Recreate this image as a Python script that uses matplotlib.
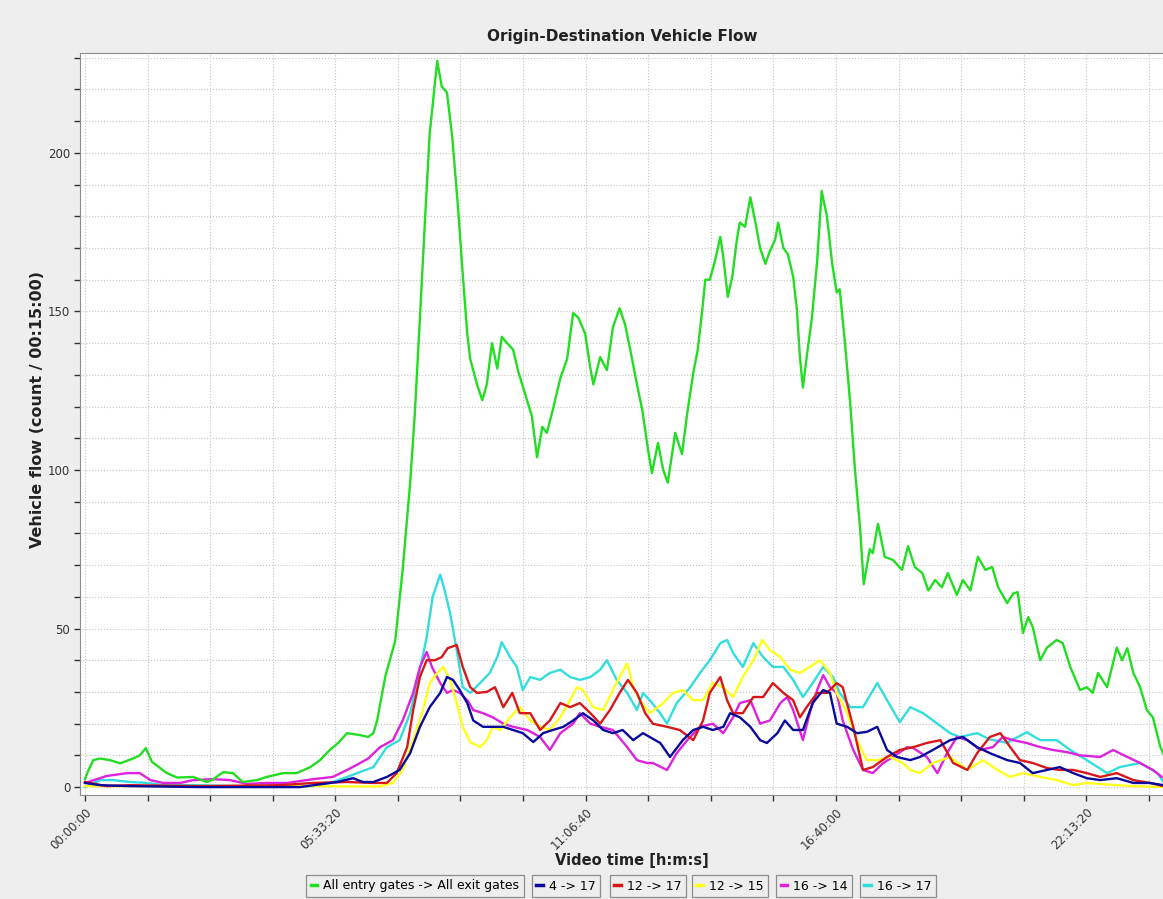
import numpy as np
import matplotlib.pyplot as plt
from matplotlib.ticker import MultipleLocator, FuncFormatter

# (minute of video, vehicles per 15 min)
all_gates = [
    (0, 2.5), (4, 5), (11, 8.5), (20, 9), (33, 8.5), (47, 7.5), (64, 9), (73, 10), (81, 12.3), (89, 8),
    (100, 6), (109, 4.4), (123, 3), (144, 3.2), (162, 1.6), (169, 2.2), (184, 4.7), (197, 4.4), (210, 1.6),
    (229, 2.2), (242, 3.2), (264, 4.4), (282, 4.4), (300, 6.3), (313, 8.5), (326, 11.7), (337, 13.9),
    (349, 17), (366, 16.4), (377, 15.8), (384, 17), (389, 21), (400, 35), (413, 46), (423, 68.5),
    (433, 96), (439, 117), (446, 148), (453, 180), (459, 206), (469, 229), (475, 221), (482, 219),
    (489, 205), (497, 182), (502, 165), (509, 143), (513, 135), (522, 127), (529, 122), (535, 127),
    (542, 140), (549, 132), (555, 142), (562, 140), (570, 138), (577, 131), (586, 124), (595, 117),
    (602, 104), (609, 113.6), (615, 111.7), (623, 119), (633, 129), (642, 135), (650, 149.5), (657, 148),
    (666, 143), (673, 132), (677, 127), (686, 135.6), (695, 131.5), (703, 145), (712, 151), (719, 146),
    (726, 138), (735, 127), (742, 119), (750, 106), (755, 99), (763, 108.5), (770, 100), (776, 96),
    (786, 111.7), (795, 105), (802, 118), (810, 130.6), (816, 138), (822, 150.5), (826, 160), (832, 160),
    (839, 166), (846, 173.5), (850, 167), (856, 154.6), (862, 161), (868, 172.6), (872, 178), (879, 176.7),
    (886, 186), (892, 179), (899, 170), (906, 165), (912, 169), (919, 172.6), (923, 178), (930, 170),
    (936, 168), (943, 161), (948, 150.5), (952, 135.6), (956, 126), (961, 135.6), (968, 148), (975, 166),
    (981, 188), (988, 180), (995, 165), (1001, 156), (1005, 157), (1012, 140), (1019, 121), (1025, 101),
    (1032, 82), (1037, 64), (1045, 75), (1049, 73.8), (1056, 83), (1065, 72.6), (1076, 71.6), (1088, 68.5),
    (1096, 76), (1105, 69.4), (1115, 67.5), (1123, 62), (1132, 65.3), (1141, 63), (1149, 67.5),
    (1161, 60.6), (1169, 65.3), (1179, 62), (1189, 72.6), (1199, 68.5), (1208, 69.4), (1216, 63),
    (1228, 58), (1236, 61), (1242, 61.5), (1249, 48.6), (1256, 53.6), (1262, 50.5), (1272, 40), (1281, 44),
    (1294, 46.4), (1302, 45.4), (1312, 37.9), (1325, 30.6), (1334, 31.5), (1342, 29.7), (1349, 36),
    (1361, 31.5), (1374, 44), (1381, 40), (1388, 43.8), (1396, 36), (1405, 31.5), (1414, 24.3),
    (1422, 22), (1432, 12.6), (1436, 10.5),
]

od_4_17 = [
    (0, 1.3), (20, 0.6), (60, 0.3), (153, 0), (286, 0), (336, 1.6), (357, 2.8), (370, 1.6), (384, 1.6),
    (402, 3.2), (419, 5.4), (433, 10.7), (446, 19), (459, 25.2), (473, 29.7), (482, 34.7), (490, 33.8),
    (499, 30.6), (509, 26.5), (517, 21), (530, 19), (543, 19), (557, 19), (570, 18), (583, 17), (597, 14.2),
    (610, 17), (623, 18), (637, 19), (650, 21), (663, 23.3), (677, 21), (690, 18), (703, 17), (716, 18),
    (730, 14.8), (743, 17), (752, 15.8), (766, 13.9), (779, 9.5), (796, 14.8), (810, 18), (823, 19),
    (836, 18), (850, 19), (859, 23.3), (872, 22), (886, 19), (899, 14.8), (908, 13.9), (922, 17), (932, 21),
    (943, 18), (956, 18), (969, 26.5), (983, 30.6), (992, 29.7), (1001, 20), (1015, 19), (1028, 17),
    (1041, 17.4), (1055, 19), (1068, 11.7), (1081, 9.5), (1099, 8.5), (1112, 9.5), (1129, 11.7),
    (1152, 14.8), (1169, 15.8), (1188, 12.6), (1205, 10.7), (1228, 8.5), (1245, 7.6), (1262, 4.4),
    (1281, 5.4), (1298, 6.3), (1316, 4.4), (1334, 2.8), (1352, 2.2), (1374, 2.8), (1396, 1.3),
    (1418, 1.3), (1436, 0.6),
]

od_12_17 = [
    (0, 1.6), (29, 0.3), (60, 0.6), (153, 0.3), (260, 0.6), (304, 1.3), (349, 1.6), (384, 1.3), (402, 1.3),
    (415, 4.4), (429, 12.6), (437, 24.3), (446, 34.7), (455, 40), (466, 40), (475, 41), (483, 43.8),
    (495, 44.8), (503, 37.9), (513, 31.5), (522, 29.7), (535, 30), (546, 31.5), (557, 25.2), (569, 29.7),
    (579, 23.3), (593, 23.3), (606, 18), (619, 21), (633, 26.5), (646, 25.2), (659, 26.5), (673, 23.3),
    (686, 20), (699, 24.3), (712, 29.7), (723, 33.8), (735, 29.7), (746, 23.3), (756, 20), (775, 19),
    (792, 18), (810, 14.8), (823, 21), (832, 29.7), (846, 34.7), (855, 27.4), (863, 23.3), (876, 23.3),
    (890, 28.4), (903, 28.4), (916, 32.8), (930, 29.7), (943, 27.4), (952, 22), (961, 25.2), (975, 29.7),
    (988, 29.7), (1001, 32.8), (1009, 31.5), (1023, 19), (1036, 5.4), (1049, 6.3), (1068, 9.5),
    (1085, 11.7), (1103, 12.6), (1121, 13.9), (1139, 14.8), (1156, 7.6), (1175, 5.4), (1188, 10.7),
    (1205, 15.8), (1219, 17), (1232, 12.6), (1245, 8.5), (1262, 7.6), (1281, 6), (1298, 5.4),
    (1316, 5.4), (1334, 4.4), (1352, 3.2), (1374, 4.4), (1396, 2.2), (1418, 1.3), (1436, 0.3),
]

od_12_15 = [
    (0, 0.3), (153, 0.3), (286, 0.3), (366, 0.2), (393, 0.2), (410, 1.3), (423, 5.4), (437, 14.8),
    (450, 24.3), (459, 32.8), (469, 36), (477, 37.9), (486, 33.8), (495, 26.5), (503, 19), (513, 14.2),
    (526, 12.6), (535, 14.8), (543, 19), (553, 18), (566, 22), (579, 25.2), (593, 21), (606, 19),
    (619, 18), (633, 22), (646, 27.4), (655, 31.5), (663, 30.6), (677, 25.2), (690, 24.3), (703, 30.6),
    (712, 34.7), (722, 39), (730, 31.5), (739, 27.4), (752, 23.3), (770, 26.5), (783, 29.7), (796, 30.6),
    (810, 27.4), (823, 27.4), (836, 32.8), (850, 31.5), (863, 28.4), (876, 34.7), (890, 40), (902, 46.4),
    (912, 43.2), (926, 41), (939, 37), (952, 36), (965, 37.9), (979, 40), (992, 36), (1001, 29.7),
    (1015, 23.3), (1028, 14.8), (1041, 8.5), (1055, 8.5), (1072, 9.5), (1089, 7.6), (1099, 5.4),
    (1112, 4.4), (1129, 7.6), (1152, 9.5), (1175, 5.4), (1196, 8.5), (1215, 5.4), (1232, 3.2),
    (1249, 4.4), (1272, 3.2), (1294, 2.2), (1316, 0.6), (1334, 1.3), (1374, 0.6), (1396, 0.3), (1436, 0),
]

od_16_14 = [
    (0, 1.3), (29, 3.5), (56, 4.4), (73, 4.4), (87, 2.2), (104, 1.3), (127, 1.3), (144, 2.2), (170, 2.5),
    (193, 2.2), (216, 1), (242, 1.3), (269, 1.3), (304, 2.5), (330, 3.2), (349, 5.4), (362, 7), (377, 9),
    (393, 12.6), (410, 14.8), (423, 21), (437, 29.7), (446, 37.9), (455, 42.6), (462, 37.9), (473, 32.8),
    (482, 29.7), (490, 30.6), (499, 29.7), (509, 27.4), (517, 24.3), (530, 23.3), (543, 22), (557, 20),
    (570, 19), (589, 18), (606, 15.8), (619, 11.7), (633, 17), (650, 20), (659, 23.3), (673, 20),
    (686, 19), (703, 18), (722, 12.6), (735, 8.5), (748, 7.6), (756, 7.6), (775, 5.4), (788, 10.7),
    (802, 14.8), (819, 19), (836, 20), (850, 17), (863, 22), (872, 26.5), (886, 27.4), (899, 20),
    (912, 21), (926, 26.5), (935, 28.4), (943, 24.3), (956, 14.8), (965, 23.3), (975, 30.6), (983, 35.3),
    (992, 31.5), (1001, 29.7), (1009, 21), (1023, 11.7), (1036, 5.4), (1049, 4.4), (1063, 7.6),
    (1076, 9.5), (1095, 12.6), (1103, 12.3), (1121, 9.5), (1135, 4.4), (1148, 10.7), (1161, 15.8),
    (1175, 14.8), (1192, 11.7), (1209, 12.6), (1222, 15.8), (1236, 14.8), (1254, 13.9), (1272, 12.6),
    (1289, 11.7), (1308, 11), (1325, 10), (1352, 9.5), (1369, 11.7), (1388, 9.5), (1405, 7.6),
    (1422, 5.4), (1434, 3.2),
]

od_16_17 = [
    (0, 0), (20, 2.2), (37, 2.2), (60, 1.6), (83, 1.3), (104, 0.6), (153, 0.6), (216, 0.2), (304, 0.3),
    (330, 1.6), (349, 3.2), (366, 4.7), (384, 6.3), (402, 12.6), (419, 14.8), (433, 23.3), (446, 37),
    (455, 47.3), (463, 60), (473, 67), (479, 62), (486, 55), (495, 43.2), (503, 31.5), (513, 29.7),
    (526, 32.8), (539, 36), (549, 41), (555, 45.7), (566, 41), (575, 37.9), (583, 30.6), (593, 34.7),
    (606, 33.8), (619, 36), (633, 37), (646, 34.7), (659, 33.8), (673, 34.7), (686, 37), (695, 40),
    (708, 33.8), (722, 29.7), (735, 24.3), (743, 29.7), (752, 27.4), (766, 23.3), (775, 20), (788, 26.5),
    (806, 31.5), (819, 36), (832, 40), (846, 45.4), (855, 46.4), (863, 42.3), (876, 37.9), (890, 45.4),
    (903, 41), (916, 37.9), (930, 37.9), (943, 33.8), (956, 28.4), (969, 32.8), (983, 37.9), (996, 34.7),
    (1005, 29.7), (1019, 25.2), (1036, 25.2), (1055, 32.8), (1068, 27.4), (1085, 20.5), (1099, 25.2),
    (1116, 23.3), (1135, 20), (1152, 17), (1165, 15.8), (1188, 17), (1205, 15), (1228, 14),
    (1254, 17.3), (1272, 14.8), (1294, 14.8), (1312, 11.7), (1334, 8.5), (1361, 4.4), (1378, 6.3),
    (1405, 7.6), (1428, 4.4), (1436, 1.6),
]

series = [
    (all_gates, 'All entry gates -> All exit gates', '#22dd22'),
    (od_4_17, '4 -> 17', '#0a0a9c'),
    (od_12_17, '12 -> 17', '#d81818'),
    (od_12_15, '12 -> 15', '#ffff1e'),
    (od_16_14, '16 -> 14', '#dd22dd'),
    (od_16_17, '16 -> 17', '#33dddd'),
]


def hms(x, pos):
    s = int(round(x))
    return '%02d:%02d:%02d' % (s // 3600, (s % 3600) // 60, s % 60)


fig = plt.figure(figsize=(11.63, 8.99), dpi=100, facecolor='#eeeeee')
ax = fig.add_axes([80 / 1163, 1 - 795 / 899, 1 - 80 / 1163, 742 / 899])
ax.set_facecolor('white')

lines = []
for i, (pts, label, color) in enumerate(series):
    arr = np.array(pts, dtype=float)
    ln, = ax.plot(arr[:, 0] * 60, arr[:, 1], color=color, lw=1.7, label=label, zorder=10 - i)
    lines.append(ln)

ax.set_xlim(-400, 86130)
ax.set_ylim(-2.5, 231.5)
ax.xaxis.set_major_locator(MultipleLocator(20000))
ax.xaxis.set_minor_locator(MultipleLocator(5000))
ax.xaxis.set_major_formatter(FuncFormatter(hms))
ax.yaxis.set_major_locator(MultipleLocator(50))
ax.yaxis.set_minor_locator(MultipleLocator(10))
ax.grid(which='both', color='#c4c4c4', ls=':', lw=0.8)
ax.set_axisbelow(True)

ax.tick_params(which='both', direction='out', color='#333333', length=4, width=1)
ax.tick_params(axis='y', labelsize=8.5, colors='#333333', pad=3)
ax.tick_params(axis='x', labelsize=8.5, colors='#333333', pad=4)
plt.setp(ax.get_xticklabels(), rotation=45, ha='right', rotation_mode='anchor')

for side in ['top', 'left', 'bottom']:
    ax.spines[side].set_color('#8c8c8c')
ax.spines['right'].set_visible(False)

fig.text(622 / 1163, 1 - 37 / 899, 'Origin-Destination Vehicle Flow', ha='center', va='center',
         fontsize=11, fontweight='bold', color='#222222')
fig.text(632 / 1163, 1 - 861 / 899, 'Video time [h:m:s]', ha='center', va='center',
         fontsize=10.5, fontweight='bold', color='#222222')
fig.text(37 / 1163, 1 - 410 / 899, 'Vehicle flow (count / 00:15:00)', ha='center', va='center',
         rotation=90, fontsize=11.5, fontweight='bold', color='#222222')

# one boxed entry per series along the bottom
box_x = [415, 566, 648, 730, 814, 898]
for ln, bx in zip(lines, box_x):
    leg = fig.legend(handles=[ln], labels=[ln.get_label()], loc='center',
                     bbox_to_anchor=(bx / 1163, 1 - 886 / 899), fontsize=9,
                     handlelength=0.5, handletextpad=0.5, borderpad=0.35,
                     fancybox=False, framealpha=1, facecolor='#eeeeee', edgecolor='#8c8c8c')
    leg.get_frame().set_linewidth(0.9)
    for h in leg.legend_handles:
        h.set_linewidth(2.5)

fig.savefig('out.png', dpi=100, facecolor=fig.get_facecolor())
